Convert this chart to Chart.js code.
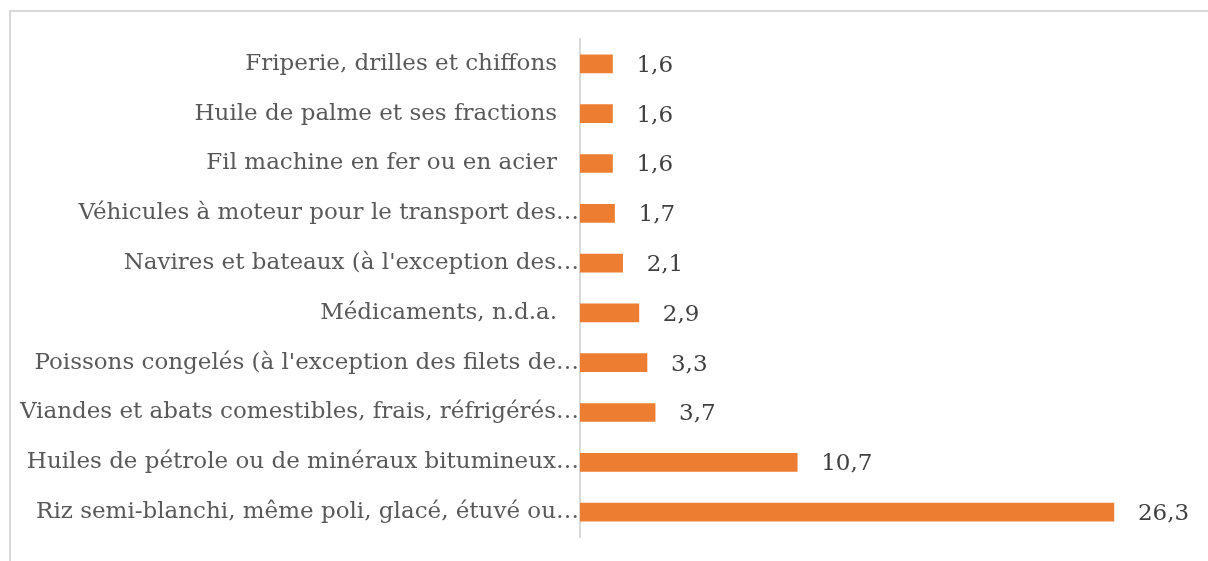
<!DOCTYPE html>
<html>
<head>
<meta charset="utf-8">
<script src="https://cdn.jsdelivr.net/npm/chart.js@4/dist/chart.umd.min.js"></script>
<style>
  body { margin: 0; background: #fff; overflow: hidden; }
  #frame { position: absolute; left: 9px; top: 10px; width: 1220px; height: 580px; border: 2px solid #d9d9d9; }
  #wrap { position: absolute; left: 0; top: 0; width: 1208px; height: 561px; }
</style>
</head>
<body>
<div id="frame"></div>
<div id="wrap"><canvas id="mychart"></canvas></div>
<script>
var products = [
  "Friperie, drilles et chiffons",
  "Huile de palme et ses fractions",
  "Fil machine en fer ou en acier",
  "Véhicules à moteur pour le transport des…",
  "Navires et bateaux (à l'exception des…",
  "Médicaments, n.d.a.",
  "Poissons congelés (à l'exception des filets de…",
  "Viandes et abats comestibles, frais, réfrigérés…",
  "Huiles de pétrole ou de minéraux bitumineux…",
  "Riz semi-blanchi, même poli, glacé, étuvé ou…"
]
var shares = [1.6, 1.6, 1.6, 1.7, 2.1, 2.9, 3.3, 3.7, 10.7, 26.3]

var FONT = "'DejaVu Serif', serif"

// write the value after each bar, french decimal comma
var valueLabels = {
  id: 'valueLabels',
  afterDatasetsDraw: function(chart) {
    var ctx = chart.ctx
    var meta = chart.getDatasetMeta(0)
    ctx.save()
    ctx.font = "23px " + FONT
    ctx.fillStyle = "#404040"
    ctx.textBaseline = "middle"
    ctx.textAlign = "left"
    meta.data.forEach(function(bar, i) {
      var txt = shares[i].toFixed(1).replace('.', ',')
      ctx.fillText(txt, bar.x + 24, bar.y + 2)
    })
    ctx.restore()
  }
}

var mychart = document.getElementById('mychart').getContext('2d')
var chart = new Chart(mychart, {
  type: 'bar',
  data: {
    labels: products,
    datasets: [{
      data: shares,
      backgroundColor: "#ed7d31",
      barThickness: 18
    }]
  },
  options: {
    indexAxis: 'y',
    responsive: true,
    maintainAspectRatio: false,
    animation: false,
    layout: { padding: { top: 39, bottom: 24, left: 0, right: 19 } },
    plugins: { legend: { display: false }, tooltip: { enabled: false } },
    scales: {
      x: { min: 0, max: 30, display: false },
      y: {
        grid: { display: false, drawTicks: false },
        border: { display: true, color: "#d9d9d9", width: 2 },
        ticks: {
          color: "#595959",
          font: { family: FONT, size: 23 },
          padding: 1,
          // full labels sit a bit off the axis, cut ones run up to it
          callback: function(v, i) {
            var s = products[i]
            return s.slice(-1) == "…" ? s : s + "   "
          }
        },
        afterFit: function(scale) { scale.width = 580 }
      }
    }
  },
  plugins: [valueLabels]
})
</script>
</body>
</html>
